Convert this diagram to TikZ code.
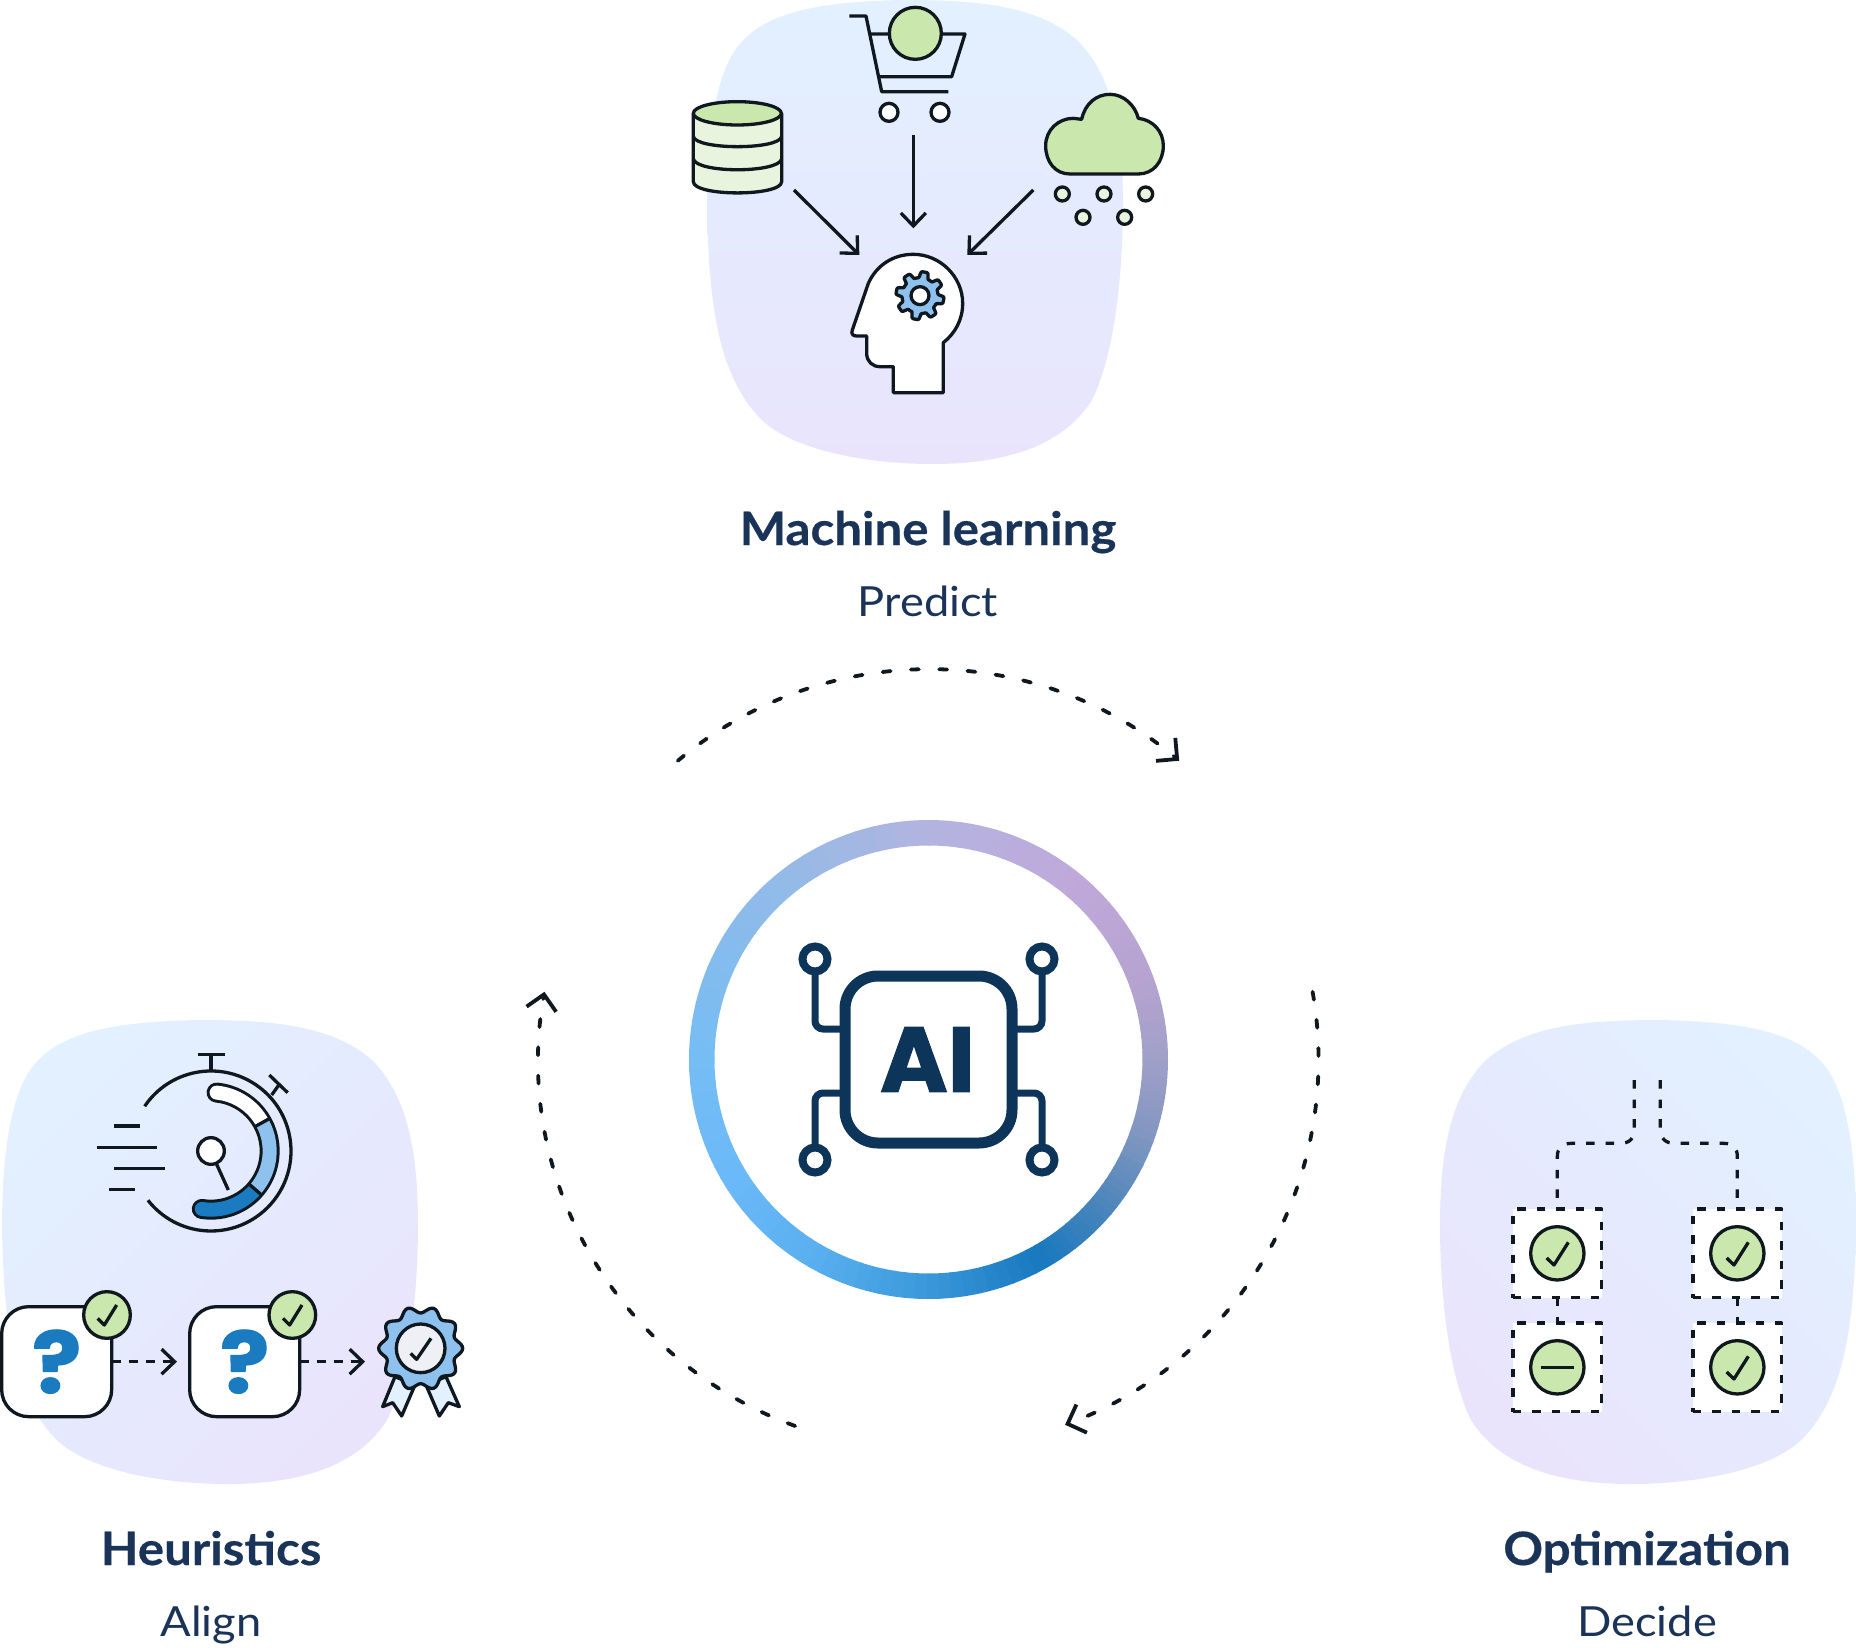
\documentclass[tikz,border=0pt]{standalone}
\usepackage{fontspec}
\setmainfont{Lato}
\newfontfamily\popp{Poppins}[BoldFeatures={FakeBold=1.2}]
\newfontfamily\poppq{Poppins}[BoldFeatures={FakeBold=1.4,FakeStretch=1.08}]
\newfontfamily\ttlfont{Lato}[BoldFeatures={FakeBold=0.4,FakeStretch=1.07}]
\newfontfamily\subfont{Lato}[FakeStretch=1.09]
\usetikzlibrary{arrows.meta,calc}
\definecolor{ink}{HTML}{10181F}
\definecolor{navy}{HTML}{0D3559}
\definecolor{title}{HTML}{1A3358}
\definecolor{blobA}{HTML}{E2F0FF}
\definecolor{blobB}{HTML}{E9E4FC}
\definecolor{leaf}{HTML}{CAE8AD}
\definecolor{paleleaf}{HTML}{E8F4DD}
\definecolor{sky}{HTML}{8FC1EE}
\definecolor{deep}{HTML}{1A7BC0}
\definecolor{palesky}{HTML}{E3F0FF}
\definecolor{mist}{HTML}{EEF0F5}
\tikzset{
  ln/.style={draw=ink,line width=3.3pt,line join=round},
  arr/.style={ln,-{Straight Barb[length=13pt,width=25pt,line width=3.3pt]}},
  darr/.style={ln,dash pattern=on 9pt off 8pt,-{Straight Barb[length=13pt,width=25pt,line width=3.3pt]}},
  dl/.style={ln,dash pattern=on 8.5pt off 11pt},
  orbit/.style={ln,line width=3.8pt,line cap=round,dash pattern=on 8pt off 20.3pt,-{Straight Barb[length=15pt,width=30pt,line width=3.8pt]}},
  optbox/.style={dl,fill=white,minimum size=88.7pt,inner sep=0pt,outer sep=0pt},
  qcard/.style={ln,fill=white,minimum size=110pt,rounded corners=27pt,inner sep=0pt,outer sep=0pt,text=deep,font=\poppq\bfseries\fontsize{85}{85}\selectfont},
  chk/.style={ln,fill=leaf},
  trace/.style={draw=navy,line width=7pt,rounded corners=8pt},
  pad/.style={draw=navy,line width=8pt,fill=white},
  ttl/.style={anchor=base,inner sep=0pt,text=title,font=\ttlfont\bfseries\fontsize{46}{46}\selectfont},
  sub/.style={anchor=base,inner sep=0pt,text=title,font=\subfont\fontsize{41.5}{41.5}\selectfont},
}
\newcommand{\blobpath}{(195,0) .. controls (110,2) and (50,12) .. (25,55) .. controls (5,90) and (0,150) .. (0,210) .. controls (2,300) and (10,370) .. (50,415) .. controls (80,450) and (160,464) .. (225,464) .. controls (310,464) and (360,440) .. (385,400) .. controls (410,350) and (416,260) .. (416,205) .. controls (416,130) and (405,75) .. (370,40) .. controls (330,5) and (270,0) .. (195,0) -- cycle}
\begin{document}
\begin{tikzpicture}[x=1pt,y=1pt,yscale=-1]
\useasboundingbox (0,0) rectangle (1856,1648);
% blobs
\begin{scope}[shift={(707,0)}]\shade[top color=blobA,bottom color=blobB] \blobpath;\end{scope}
\begin{scope}[shift={(2,1020)}]\shade[top color=blobA,bottom color=blobB,shading angle=45] \blobpath;\end{scope}
\begin{scope}[shift={(1856,1020)},xscale=-1]\shade[top color=blobA,bottom color=blobB,shading angle=-45] \blobpath;\end{scope}
% ring
\coordinate (hub) at (928.5,1059.5);
\foreach \aa/\ab/\ca/\cb in {-60/-40/1878BE/4A85BB,-40/-20/4A85BB/7F96C0,-20/0/7F96C0/A0A0C8,0/20/A0A0C8/B5A3D0,20/50/B5A3D0/C0A8DA,50/90/C0A8DA/B3B4E0,90/135/B3B4E0/8FBBE8,135/180/8FBBE8/75BDF5,180/210/75BDF5/6CB9F8,210/240/6CB9F8/5AB0F0,240/270/5AB0F0/3A98DA,270/300/3A98DA/1878BE}{
  \definecolor{ringa}{HTML}{\ca}\definecolor{ringb}{HTML}{\cb}
  \foreach \i in {0,...,9}{
    \pgfmathsetmacro\st{-(\aa+(\ab-\aa)*\i/10)+0.3}
    \pgfmathsetmacro\en{-(\aa+(\ab-\aa)*(\i+1)/10)}
    \pgfmathsetmacro\pp{(\i+0.5)*10}
    \draw[line width=25.5pt,color=ringb!\pp!ringa] ($(hub)+(\st:226.75)$) arc[start angle=\st,end angle=\en,radius=226.75];
  }
}
% chip
\node[draw=navy,line width=11pt,rounded corners=33pt,minimum width=167pt,minimum height=167pt,inner sep=0pt,outer sep=0pt,fill=white] (chip) at (928.5,1059.5) {};
\node[text=navy,inner sep=0pt,font=\popp\bfseries\fontsize{92}{92}\selectfont] (ailabel) at (927.5,1059.5) {AI};
\coordinate (pa) at (815,959);\coordinate (pb) at (1042,959);\coordinate (pc) at (815,1160);\coordinate (pd) at (1042,1160);
\draw[trace] (pa) -- (815,1029) -- (842,1029);
\draw[trace] (pb) -- (1042,1029) -- (1015,1029);
\draw[trace] (pc) -- (815,1093) -- (842,1093);
\draw[trace] (pd) -- (1042,1093) -- (1015,1093);
\foreach \p in {pa,pb,pc,pd}{\draw[pad] (\p) circle[radius=12.5];}
% orbit arrows
\coordinate (o1a) at ($(hub)+(-130:390)$);
\draw[orbit] (o1a) arc[start angle=-130,end angle=-50,radius=390];
\coordinate (o2a) at ($(hub)+(-10:390)$);
\draw[orbit] (o2a) arc[start angle=-10,end angle=69.5,radius=390];
\coordinate (o3a) at ($(hub)+(110:390)$);
\draw[orbit] (o3a) arc[start angle=110,end angle=190,radius=390];
% machine learning
\begin{scope}[shift={(680,0)},scale=1/3]
 % cart
 \draw[ln] (508,48) -- (558,48) -- (605,275) -- (805,275);
 \draw[ln] (572,102) -- (855,102) -- (815,230) -- (598,230);
 \draw[ln,fill=leaf] (706,100) circle[radius=78];
 \draw[ln,fill=white] (627,337) circle[radius=27];
 \draw[ln,fill=white] (780,337) circle[radius=27];
 \coordinate (cart) at (700,405);
 % database
 \draw[ln,fill=paleleaf] (40,340) -- (40,545) .. controls (40,590) and (305,590) .. (305,545) -- (305,340) -- cycle;
 \draw[ln] (40,410) .. controls (50,450) and (295,450) .. (305,410);
 \draw[ln] (40,477) .. controls (50,520) and (295,520) .. (305,477);
 \draw[ln,fill=leaf] (172,340) ellipse[x radius=132,y radius=35];
 \coordinate (db) at (342,570);
 % cloud
 \draw[ln,fill=leaf] (1170,522) .. controls (1125,522) and (1097,485) .. (1097,437) .. controls (1097,390) and (1135,355) .. (1180,355) -- (1205,358) .. controls (1215,310) and (1250,283) .. (1290,283) .. controls (1330,283) and (1365,315) .. (1375,355) .. controls (1420,360) and (1450,395) .. (1450,437) .. controls (1450,485) and (1420,522) .. (1375,522) -- cycle;
 \foreach \x/\y in {1147/582,1272/582,1397/582,1209/652,1334/652}{\draw[ln,fill=paleleaf] (\x,\y) circle[radius=21];}
 \coordinate (cloud) at (1060,570);
 % head
 \draw[ln,fill=white] (640,1178) -- (790,1178) -- (790,1028) .. controls (825,1000) and (848,960) .. (848,910) .. controls (848,830) and (780,763) .. (700,763) .. controls (640,763) and (590,795) .. (565,850) -- (517,990) .. controls (512,1003) and (520,1008) .. (530,1008) -- (560,1008) -- (560,1060) .. controls (560,1085) and (578,1100) .. (600,1100) -- (640,1100) -- cycle;
 \draw[ln,fill=sky] plot[domain=0:360,samples=145,smooth] ({720+(63+9*max(-1,min(1,2.2*sin(8*\x))))*cos(\x)},{887+(63+9*max(-1,min(1,2.2*sin(8*\x))))*sin(\x)}) -- cycle;
 \draw[ln,fill=white] (720,887) circle[radius=27];
 \coordinate (headL) at (538,765);\coordinate (headT) at (700,685);\coordinate (headR) at (862,765);
 \draw[arr] (db) -- (headL);
 \draw[arr] (cart) -- (headT);
 \draw[arr] (cloud) -- (headR);
\end{scope}
% heuristics
\begin{scope}[shift={(0,1030)},scale=1/3]
 \coordinate (watch) at (633,363);
 \draw[ln] ($(watch)+(-146:240)$) arc[start angle=-146,end angle=142,radius=240];
 \draw[ln] (633,120) -- (633,73) (593,73) -- (675,73);
 \draw[ln] (815,195) -- (838,163) (808,135) -- (863,188);
 \draw[draw=ink,line width=20pt,line cap=round] ($(watch)+(-84.5:176)$) arc[start angle=-84.5,end angle=99,radius=176];
 \draw[draw=white,line width=14pt,line cap=round] ($(watch)+(-84.5:176)$) arc[start angle=-84.5,end angle=-29,radius=176];
 \draw[draw=deep,line width=14pt,line cap=round] ($(watch)+(41:176)$) arc[start angle=41,end angle=99,radius=176];
 \draw[draw=sky,line width=14pt] ($(watch)+(-29:176)$) arc[start angle=-29,end angle=41,radius=176];
 \draw[ln] ($(watch)+(-29:150)$) -- ($(watch)+(-29:202)$);
 \draw[ln] ($(watch)+(41:150)$) -- ($(watch)+(41:202)$);
 \draw[ln,fill=white] (watch) circle[radius=40];
 \draw[ln] (650,403) -- (685,480);
 \draw[ln] (342,288) -- (420,288) (290,352) -- (470,352) (342,415) -- (495,415) (328,479) -- (405,479);
 \node[qcard] (q1) at (170,995) {?};
 \node[qcard] (q2) at (734,995) {?};
 \draw[chk] (321,855) circle[radius=70];
 \draw[chk] (877,855) circle[radius=70];
 \draw[ln] (293,865) -- (313,885) -- (350,825);
 \draw[ln] (849,865) -- (869,885) -- (906,825);
 % badge
 \draw[ln,fill=palesky] (1185,1040) -- (1148,1130) -- (1178,1118) -- (1205,1158) -- (1245,1065) -- cycle;
 \draw[ln,fill=palesky] (1338,1040) -- (1378,1130) -- (1345,1118) -- (1318,1158) -- (1278,1065) -- cycle;
 \draw[ln,fill=sky] plot[domain=0:360,samples=121,smooth] ({1262+(116+10*cos(10*(\x+72)))*cos(\x)},{955+(116+10*cos(10*(\x+72)))*sin(\x)}) -- cycle;
 \draw[ln,fill=mist] (1262,955) circle[radius=73];
 \draw[ln] (1232,970) -- (1250,988) -- (1293,925);
 \coordinate (badge) at (1135,995);
 \draw[darr,shorten >=12.7pt] (q1.east) -- (q2.west);
 \draw[darr,shorten >=13.3pt] (q2.east) -- (badge);
\end{scope}
% optimization
\begin{scope}[shift={(1440,1050)},scale=1/3]
 \node[optbox] (oa) at (352,610) {};
 \node[optbox] (ob) at (892,610) {};
 \node[optbox] (oc) at (352,952) {};
 \node[optbox] (od) at (892,952) {};
 \coordinate (fl) at (583,90);\coordinate (fr) at (661,90);
 \draw[dl] (fl) -- (583,235) .. controls (583,265) and (570,280) .. (540,280) -- (395,280) .. controls (365,280) and (352,295) .. (352,320) -- (oa.north);
 \draw[dl] (fr) -- (661,235) .. controls (661,265) and (675,280) .. (705,280) -- (850,280) .. controls (880,280) and (892,295) .. (892,320) -- (ob.north);
 \draw[dl] (oa.south) -- (oc.north);
 \draw[dl] (ob.south) -- (od.north);
 \foreach \n in {oa,ob,oc,od}{\draw[chk] (\n.center) circle[radius=80];}
 \foreach \n in {oa,ob,od}{\draw[ln] ($(\n.center)+(-32,14)$) -- ($(\n.center)+(-10,35)$) -- ($(\n.center)+(33,-33)$);}
 \draw[ln] ($(oc.center)+(-50,0)$) -- ($(oc.center)+(50,0)$);
\end{scope}
% labels
\node[ttl] (t1) at (928,545) {Machine learning};
\node[sub] (s1) at (928,616.7) {Predict};
\node[ttl] (t2) at (211,1565) {Heuristics};
\node[sub] (s2) at (211,1636.7) {Align};
\node[ttl] (t3) at (1647,1565) {Optimization};
\node[sub] (s3) at (1647,1636.7) {Decide};
\end{tikzpicture}
\end{document}
